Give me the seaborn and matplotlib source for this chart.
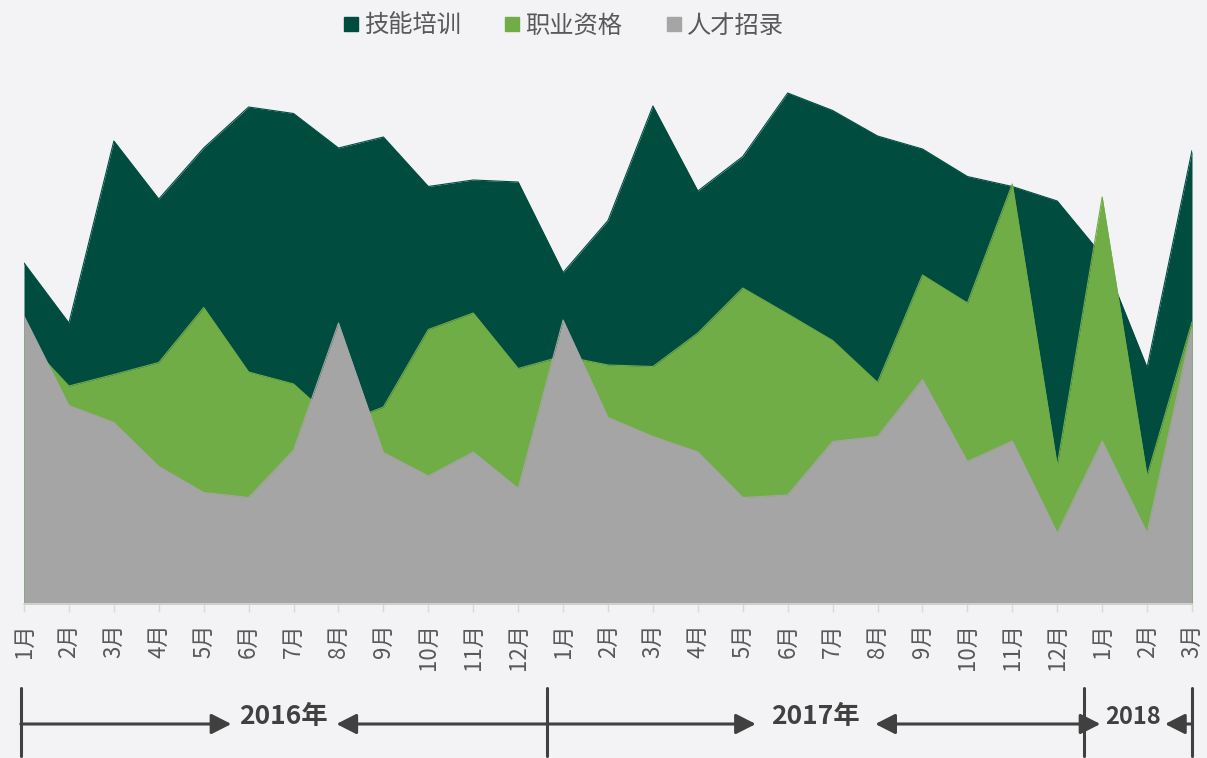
import numpy as np
import pandas as pd
import matplotlib
matplotlib.use("Agg")
import matplotlib.pyplot as plt
import matplotlib.transforms as mtransforms
from matplotlib.lines import Line2D
import seaborn as sns

# ---------------- data ----------------
months = ["1月", "2月", "3月", "4月", "5月", "6月", "7月", "8月", "9月", "10月", "11月", "12月",
          "1月", "2月", "3月", "4月", "5月", "6月", "7月", "8月", "9月", "10月", "11月", "12月",
          "1月", "2月", "3月"]
series_names = ["技能培训", "职业资格", "人才招录"]
skill_training = [68.2, 56.2, 92.6, 81.0, 91.2, 99.4, 98.1, 91.2, 93.4, 83.5, 84.8, 84.4,
                  66.3, 76.7, 99.6, 82.6, 89.5, 102.2, 98.7, 93.6, 91.0, 85.5, 83.5, 80.6,
                  69.7, 47.3, 90.7]
qualification = [53.2, 43.6, 45.9, 48.3, 59.3, 46.4, 44.0, 35.9, 39.4, 54.9, 58.2, 47.1,
                 49.6, 47.8, 47.5, 54.2, 63.2, 58.0, 52.7, 44.3, 65.8, 60.2, 84.0, 27.7,
                 81.4, 25.6, 56.4]
recruitment = [57.6, 39.7, 36.3, 27.5, 22.3, 21.3, 30.8, 56.2, 30.3, 25.6, 30.4, 23.1,
               56.8, 37.3, 33.5, 30.4, 21.3, 21.8, 32.5, 33.5, 44.9, 28.5, 32.6, 14.2,
               32.6, 14.2, 55.4]
years = ["2016年", "2017年", "2018"]
year_bounds = [-0.07, 11.64, 23.6, 26.0]

colors = ["#004D40", "#70AD47", "#A5A5A5"]

# ---------------- style ----------------
sns.set_theme(style="white")
plt.rcParams["font.family"] = ["Noto Sans CJK SC", "DejaVu Sans"]

bg = "#F3F3F5"
fig = plt.figure(figsize=(12.07, 7.58), dpi=100, facecolor=bg)
ax = fig.add_axes([24 / 1207, 154 / 758, (1192 - 24) / 1207, (604 - 80) / 758])
ax.set_facecolor("none")

idx = np.arange(len(months))
df = pd.DataFrame({"idx": idx, series_names[0]: skill_training,
                   series_names[1]: qualification, series_names[2]: recruitment})
long = df.melt(id_vars="idx", var_name="series", value_name="value")

for name, col in zip(series_names, colors):
    sub = long[long["series"] == name]
    ax.fill_between(sub["idx"], 0, sub["value"], color=col, lw=0, zorder=2)
    sns.lineplot(data=sub, x="idx", y="value", color=col, lw=0.8, ax=ax, zorder=2,
                 legend=False)

ax.set_xlim(0, len(months) - 1)
ax.set_ylim(0, 104.8)
ax.set_xticks(idx)
ax.set_xticklabels(months, rotation=90, fontsize=16, color="#595959",
                   va="top", ha="center")
ax.set_yticks([])
ax.set_xlabel("")
ax.set_ylabel("")
for s in ["top", "right", "left"]:
    ax.spines[s].set_visible(False)
ax.spines["bottom"].set_color("#D9D9D9")
ax.spines["bottom"].set_linewidth(1.2)
ax.spines["bottom"].set_zorder(5)
ax.tick_params(axis="x", which="major", direction="out", length=6, width=1,
               color="#D9D9D9", pad=8, bottom=True)

# ---------------- legend ----------------
handles = [Line2D([0], [0], marker="s", linestyle="none", markersize=10.5,
                  markerfacecolor=c, markeredgecolor=c) for c in colors]
fig.legend(handles, series_names, loc="center", bbox_to_anchor=(0.467, 0.9657),
           ncol=3, frameon=False, fontsize=17.5, labelcolor="#595959",
           handlelength=0.6, handletextpad=0.25, columnspacing=1.8)

# ---------------- year annotations ----------------
trans = mtransforms.blended_transform_factory(ax.transData, fig.transFigure)
def fy(px):
    return (758 - px) / 758

dark = "#404040"
for b in year_bounds:
    ax.plot([b, b], [fy(688), fy(756)], color=dark, lw=2.2, transform=trans,
            clip_on=False, zorder=5)

gaps = [1.17, 1.33, 0.72]
sizes = [19, 19, 17]
arrow_y = fy(724)
for i, (lab, gap, fs) in enumerate(zip(years, gaps, sizes)):
    left, right = year_bounds[i], year_bounds[i + 1]
    mid = (left + right) / 2 if i < 2 else 24.68
    ax.text(mid, fy(717), lab, transform=trans, ha="center", va="center",
            fontsize=fs, fontweight="bold", color=dark)
    props = dict(arrowstyle="-|>,head_length=0.55,head_width=0.28", color=dark,
                 lw=2.2, mutation_scale=22, shrinkA=0, shrinkB=0)
    ax.annotate("", xy=(mid - gap, arrow_y), xytext=(left, arrow_y),
                xycoords=trans, textcoords=trans, arrowprops=props,
                annotation_clip=False)
    ax.annotate("", xy=(mid + gap, arrow_y), xytext=(right, arrow_y),
                xycoords=trans, textcoords=trans, arrowprops=props,
                annotation_clip=False)

fig.savefig("out.png", dpi=100, facecolor=bg)
